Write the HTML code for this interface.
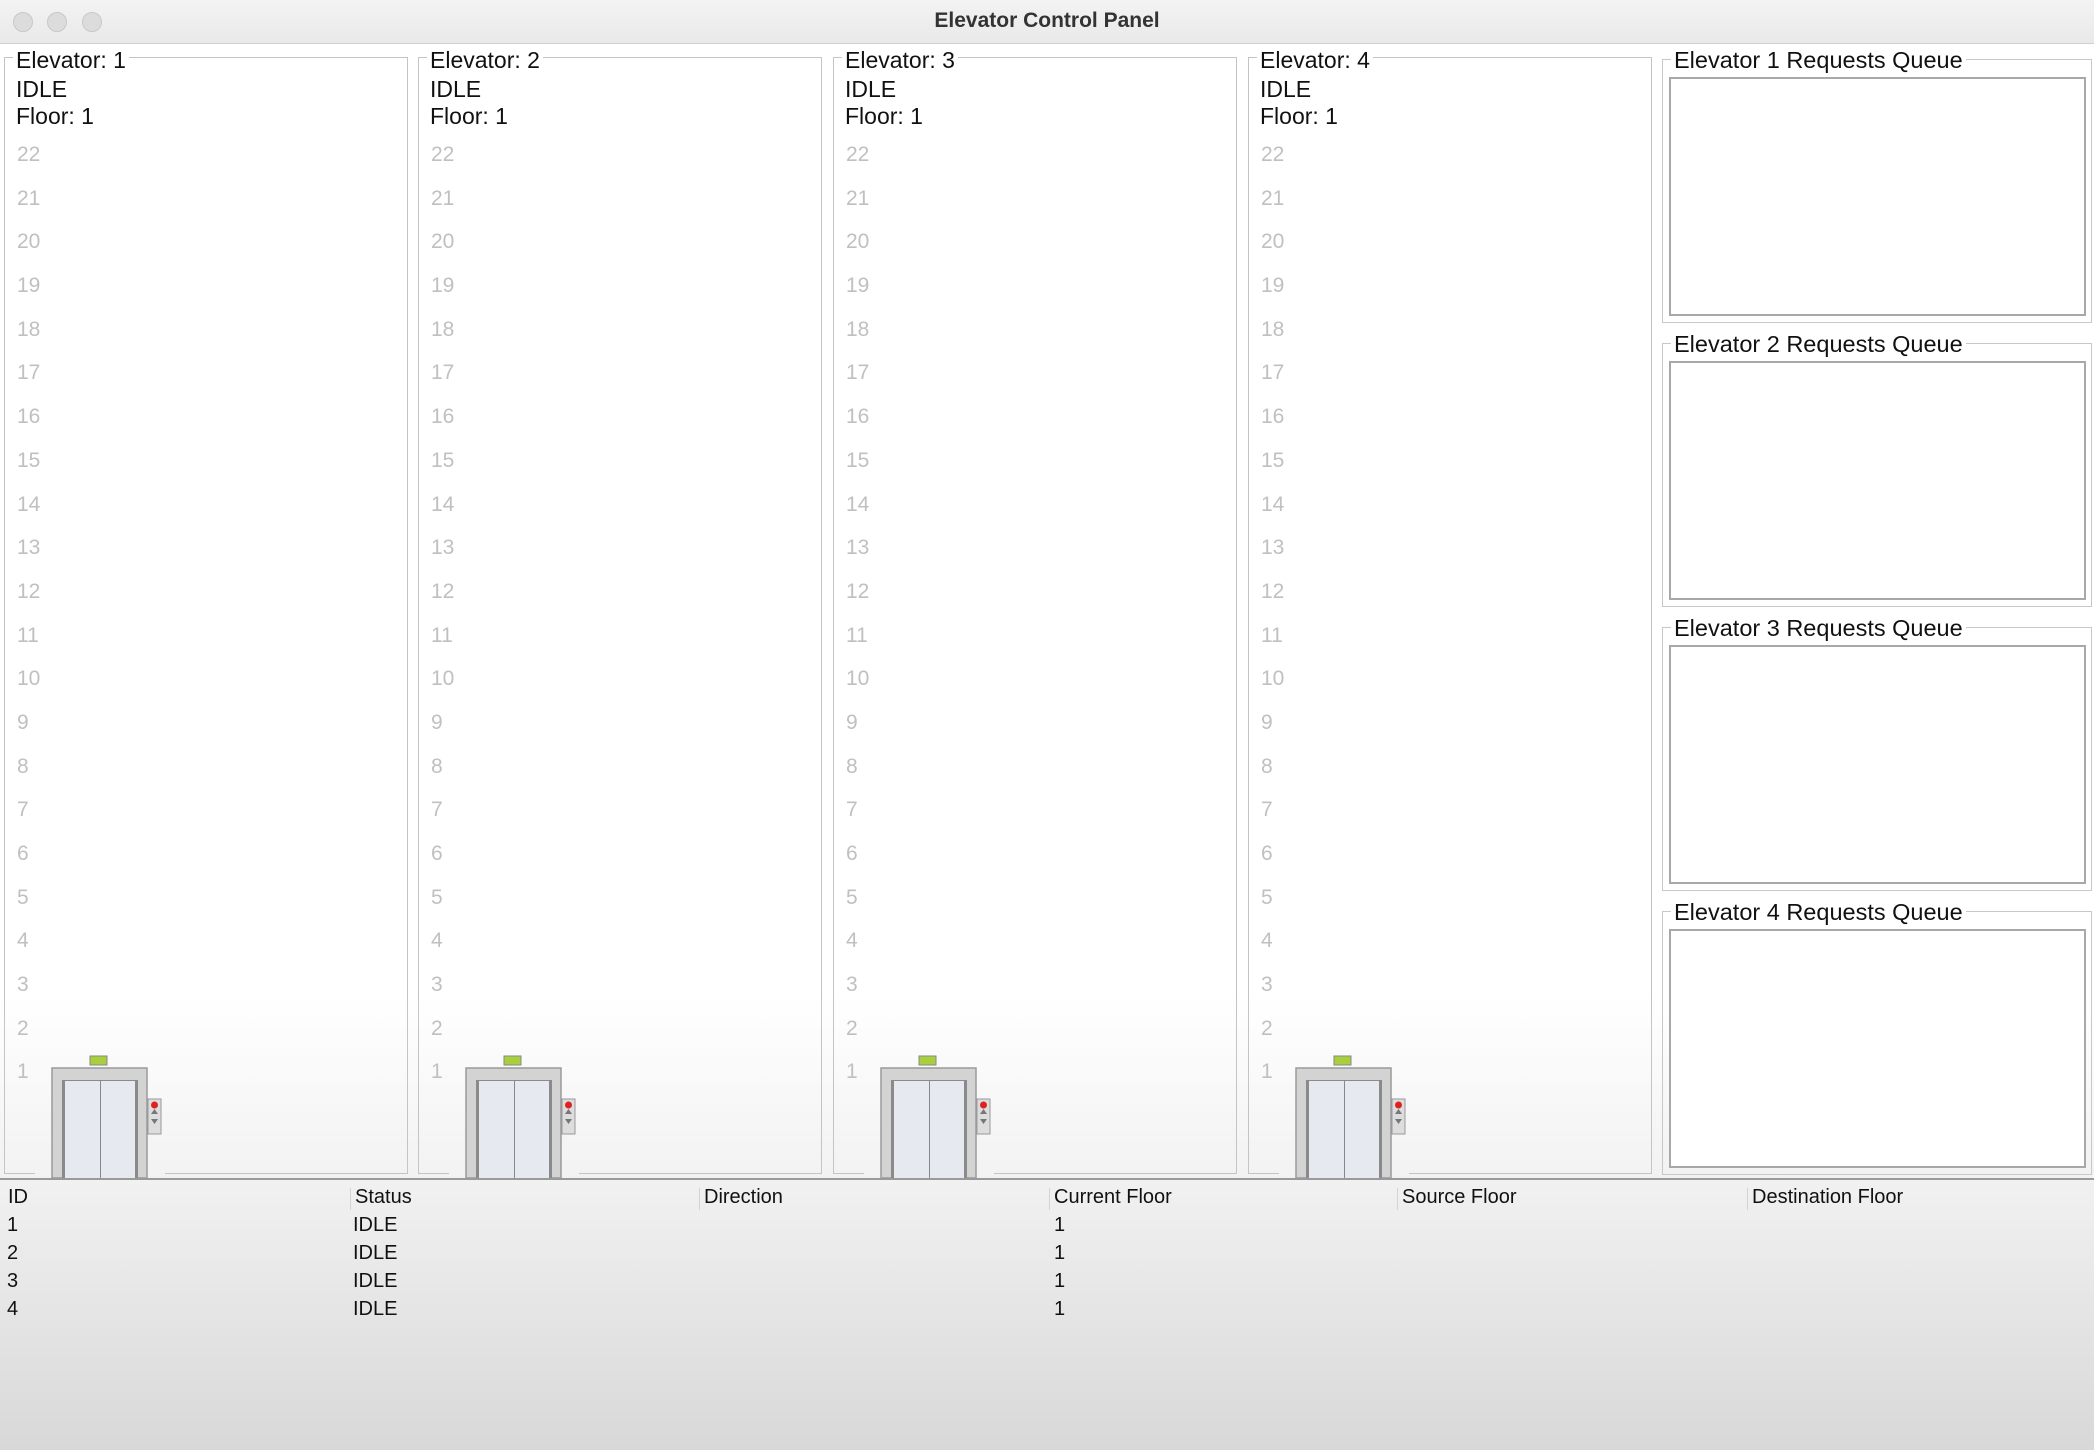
<!DOCTYPE html>
<html><head><meta charset="utf-8"><style>
*{margin:0;padding:0;box-sizing:border-box}
body{width:2094px;height:1450px;overflow:hidden;background:#fff;font-family:"Liberation Sans",sans-serif;position:relative;color:#111}
.title{position:absolute;left:0;top:0;width:2094px;height:44px;background:linear-gradient(#f3f3f3,#e9e9e9);border-bottom:1px solid #cfcfcf;text-align:center;line-height:42px;font-weight:bold;font-size:21px;color:#333}
.dot{position:absolute;top:12px;width:20px;height:20px;border-radius:50%;background:#dcdcdc;border:1px solid #c8c8c8}
.main{position:absolute;left:0;top:45px;width:2094px;height:1133px;background:linear-gradient(#fff 0,#fff 950px,#f2f2f2 1133px)}
.panel{position:absolute;top:57px;width:404px;height:1117px;border:1.5px solid #c4c4c4}
.lbl{position:absolute;font-size:23px;line-height:26px;background:transparent}
.lbl.t{top:-11px;left:8px;padding:0 3px;background:#fff}
.floors{position:absolute;left:12px;top:75px;font-size:21px;color:#c0c0c0}
.floors div{height:43.7px;line-height:43.7px}
.gap{position:absolute;bottom:-3px;left:30px;width:130px;height:6px;background:#f3f3f3}
.elev{position:absolute;left:39px;top:995px}
.q{position:absolute;left:1662px;width:430px;height:264px;border:1.5px solid #c8c8c8}
.q .t{position:absolute;top:-13px;left:8px;padding:0 3px;background:#fff;font-size:23.5px;line-height:26px}
.q .in{position:absolute;left:6px;top:17px;right:5px;bottom:6px;border:2px solid #a8a8a8;background:#fff}
.table{position:absolute;left:0;top:1178px;width:2094px;height:272px;border-top:2px solid #9a9a9a;background:linear-gradient(#f1f1f1,#d8d8d8);font-size:20px}
.c{position:absolute}
.sep{position:absolute;top:8px;width:1px;height:22px;background:#d4d4d4}
</style></head><body>
<div class="title">Elevator Control Panel
<div class="dot" style="left:13px"></div><div class="dot" style="left:47px"></div><div class="dot" style="left:82px"></div></div>
<div class="main"></div>

<div class="panel" style="left:4px"><div class="lbl t">Elevator: 1</div><div class="lbl" style="left:11px;top:18px">IDLE</div><div class="lbl" style="left:11px;top:45px">Floor: 1</div>
<div class="floors"><div>22</div><div>21</div><div>20</div><div>19</div><div>18</div><div>17</div><div>16</div><div>15</div><div>14</div><div>13</div><div>12</div><div>11</div><div>10</div><div>9</div><div>8</div><div>7</div><div>6</div><div>5</div><div>4</div><div>3</div><div>2</div><div>1</div></div>
<div class="gap"></div>
<svg class="elev" width="125" height="125" viewBox="0 0 125 125"><rect x="46" y="3" width="17" height="9" fill="#a9cf3c" stroke="#888" stroke-width="1"/><rect x="8" y="15" width="95" height="110" fill="#d3d3d3" stroke="#9a9a9a" stroke-width="1.5"/><rect x="18" y="27" width="76" height="98" fill="#8a8a8a"/><rect x="21" y="28" width="35" height="97" fill="#e6eaf0"/><rect x="57" y="28" width="34" height="97" fill="#e6eaf0"/><line x1="56.5" y1="28" x2="56.5" y2="125" stroke="#888"/><rect x="104" y="46" width="13" height="35" fill="#ddd" stroke="#999"/><circle cx="110.5" cy="52" r="3.5" fill="#d22"/><path d="M107 61h7l-3.5-5z M107 66h7l-3.5 5z" fill="#777"/></svg>
</div>

<div class="panel" style="left:418px"><div class="lbl t">Elevator: 2</div><div class="lbl" style="left:11px;top:18px">IDLE</div><div class="lbl" style="left:11px;top:45px">Floor: 1</div>
<div class="floors"><div>22</div><div>21</div><div>20</div><div>19</div><div>18</div><div>17</div><div>16</div><div>15</div><div>14</div><div>13</div><div>12</div><div>11</div><div>10</div><div>9</div><div>8</div><div>7</div><div>6</div><div>5</div><div>4</div><div>3</div><div>2</div><div>1</div></div>
<div class="gap"></div>
<svg class="elev" width="125" height="125" viewBox="0 0 125 125"><rect x="46" y="3" width="17" height="9" fill="#a9cf3c" stroke="#888" stroke-width="1"/><rect x="8" y="15" width="95" height="110" fill="#d3d3d3" stroke="#9a9a9a" stroke-width="1.5"/><rect x="18" y="27" width="76" height="98" fill="#8a8a8a"/><rect x="21" y="28" width="35" height="97" fill="#e6eaf0"/><rect x="57" y="28" width="34" height="97" fill="#e6eaf0"/><line x1="56.5" y1="28" x2="56.5" y2="125" stroke="#888"/><rect x="104" y="46" width="13" height="35" fill="#ddd" stroke="#999"/><circle cx="110.5" cy="52" r="3.5" fill="#d22"/><path d="M107 61h7l-3.5-5z M107 66h7l-3.5 5z" fill="#777"/></svg>
</div>

<div class="panel" style="left:833px"><div class="lbl t">Elevator: 3</div><div class="lbl" style="left:11px;top:18px">IDLE</div><div class="lbl" style="left:11px;top:45px">Floor: 1</div>
<div class="floors"><div>22</div><div>21</div><div>20</div><div>19</div><div>18</div><div>17</div><div>16</div><div>15</div><div>14</div><div>13</div><div>12</div><div>11</div><div>10</div><div>9</div><div>8</div><div>7</div><div>6</div><div>5</div><div>4</div><div>3</div><div>2</div><div>1</div></div>
<div class="gap"></div>
<svg class="elev" width="125" height="125" viewBox="0 0 125 125"><rect x="46" y="3" width="17" height="9" fill="#a9cf3c" stroke="#888" stroke-width="1"/><rect x="8" y="15" width="95" height="110" fill="#d3d3d3" stroke="#9a9a9a" stroke-width="1.5"/><rect x="18" y="27" width="76" height="98" fill="#8a8a8a"/><rect x="21" y="28" width="35" height="97" fill="#e6eaf0"/><rect x="57" y="28" width="34" height="97" fill="#e6eaf0"/><line x1="56.5" y1="28" x2="56.5" y2="125" stroke="#888"/><rect x="104" y="46" width="13" height="35" fill="#ddd" stroke="#999"/><circle cx="110.5" cy="52" r="3.5" fill="#d22"/><path d="M107 61h7l-3.5-5z M107 66h7l-3.5 5z" fill="#777"/></svg>
</div>

<div class="panel" style="left:1248px"><div class="lbl t">Elevator: 4</div><div class="lbl" style="left:11px;top:18px">IDLE</div><div class="lbl" style="left:11px;top:45px">Floor: 1</div>
<div class="floors"><div>22</div><div>21</div><div>20</div><div>19</div><div>18</div><div>17</div><div>16</div><div>15</div><div>14</div><div>13</div><div>12</div><div>11</div><div>10</div><div>9</div><div>8</div><div>7</div><div>6</div><div>5</div><div>4</div><div>3</div><div>2</div><div>1</div></div>
<div class="gap"></div>
<svg class="elev" width="125" height="125" viewBox="0 0 125 125"><rect x="46" y="3" width="17" height="9" fill="#a9cf3c" stroke="#888" stroke-width="1"/><rect x="8" y="15" width="95" height="110" fill="#d3d3d3" stroke="#9a9a9a" stroke-width="1.5"/><rect x="18" y="27" width="76" height="98" fill="#8a8a8a"/><rect x="21" y="28" width="35" height="97" fill="#e6eaf0"/><rect x="57" y="28" width="34" height="97" fill="#e6eaf0"/><line x1="56.5" y1="28" x2="56.5" y2="125" stroke="#888"/><rect x="104" y="46" width="13" height="35" fill="#ddd" stroke="#999"/><circle cx="110.5" cy="52" r="3.5" fill="#d22"/><path d="M107 61h7l-3.5-5z M107 66h7l-3.5 5z" fill="#777"/></svg>
</div>

<div class="q" style="top:59px"><div class="t">Elevator 1 Requests Queue</div><div class="in"></div></div>
<div class="q" style="top:343px"><div class="t">Elevator 2 Requests Queue</div><div class="in"></div></div>
<div class="q" style="top:627px"><div class="t">Elevator 3 Requests Queue</div><div class="in"></div></div>
<div class="q" style="top:911px"><div class="t">Elevator 4 Requests Queue</div><div class="in"></div></div>

<div class="table">
<div class="sep" style="left:350px"></div><div class="sep" style="left:699px"></div><div class="sep" style="left:1049px"></div><div class="sep" style="left:1397px"></div><div class="sep" style="left:1747px"></div>
<div class="c" style="left:8px;top:6px">ID</div><div class="c" style="left:355px;top:6px">Status</div><div class="c" style="left:704px;top:6px">Direction</div><div class="c" style="left:1054px;top:6px">Current Floor</div><div class="c" style="left:1402px;top:6px">Source Floor</div><div class="c" style="left:1752px;top:6px">Destination Floor</div>
<div class="c" style="left:7px;top:34px">1</div><div class="c" style="left:353px;top:34px">IDLE</div><div class="c" style="left:1054px;top:34px">1</div>
<div class="c" style="left:7px;top:62px">2</div><div class="c" style="left:353px;top:62px">IDLE</div><div class="c" style="left:1054px;top:62px">1</div>
<div class="c" style="left:7px;top:90px">3</div><div class="c" style="left:353px;top:90px">IDLE</div><div class="c" style="left:1054px;top:90px">1</div>
<div class="c" style="left:7px;top:118px">4</div><div class="c" style="left:353px;top:118px">IDLE</div><div class="c" style="left:1054px;top:118px">1</div>
</div>
</body></html>
